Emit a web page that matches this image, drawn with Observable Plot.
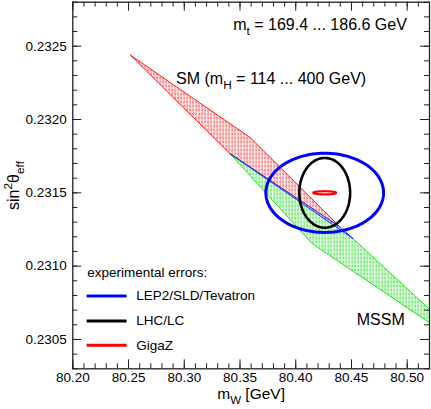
<!DOCTYPE html>
<html>
<head>
<meta charset="utf-8">
<script src="https://cdn.jsdelivr.net/npm/d3@7"></script>
<script src="https://cdn.jsdelivr.net/npm/@observablehq/plot@0.6"></script>
<style>
  html, body { margin: 0; padding: 0; background: #fff; }
  #chart svg { display: block; }
</style>
</head>
<body>
<div id="chart"></div>
<script>
// ---------------- data ----------------
const xMajorTicks = [80.20, 80.25, 80.30, 80.35, 80.40, 80.45, 80.50];
const yMajorTicks = [0.2305, 0.2310, 0.2315, 0.2320, 0.2325];
const xDomain = [80.20, 80.52];
const yDomain = [0.2303, 0.2328];

// SM band (m_H = 114 ... 400 GeV), polygon vertices
const smBandX = [80.2517, 80.3591, 80.4397, 80.3412, 80.2517];
const smBandY = [0.232439, 0.231877, 0.231267, 0.231766, 0.232439];

// overlap strip between SM and MSSM
const overlapX = [80.3412, 80.4397, 80.4514, 80.3412];
const overlapY = [0.231766, 0.231267, 0.231188, 0.231766];

// MSSM band, polygon vertices
const mssmBandX = [80.3412, 80.4514, 80.52, 80.52, 80.4147, 80.3412];
const mssmBandY = [0.231766, 0.231188, 0.230706, 0.230614, 0.231154, 0.231766];

// experimental error ellipses
const ellipseNames = ["LEP2/SLD/Tevatron", "LHC/LC", "GigaZ"];
const ellipseCenterX = [80.426, 80.426, 80.426];
const ellipseCenterY = [0.23150, 0.23150, 0.23150];
const ellipseErrX = [0.0528, 0.0228, 0.0103];
const ellipseErrY = [0.000270, 0.000238, 0.000011];

// texts
const topLabel = "m_{t} = 169.4 ... 186.6 GeV";
const smLabel = "SM (m_{H} = 114 ... 400 GeV)";
const mssmLabel = "MSSM";
const legendTitle = "experimental errors:";
const xLabel = "m_{W} [GeV]";
const yLabel = "sin^{2}θ_{eff}";

// ---------------- layout & style ----------------
const W = 431, H = 409;
const M = {top: 1.7, right: 2, bottom: 40.7, left: 72.3};
const frameW = W - M.left - M.right, frameH = H - M.top - M.bottom;
const ellipseColors = ["#0000ff", "#000000", "#ff0000"];
const ellipseWidths = [3, 2.6, 2.2];
const textPos = {
  top: {x: 80.3439, y: 0.232609},
  sm: {x: 80.2926, y: 0.232242},
  mssm: {x: 80.4547, y: 0.230597},
  yLabel: {y: 0.23155}
};
const legendPos = {x1: 80.2129, x2: 80.2487, xText: 80.2570, yTitle: 0.230925,
  yItems: [0.230796, 0.230626, 0.230461]};

const xMinor = d3.range(0, 33).map(i => +(80.20 + i * 0.01).toFixed(2));
const yMinor = d3.range(0, 26).map(i => +(0.2303 + i * 0.0001).toFixed(4));

const poly = (X, Y) => X.map((x, i) => ({x, y: Y[i]}));
const ellipsePts = i => d3.range(0, 361, 3).map(a => {
  const t = a * Math.PI / 180;
  return {x: ellipseCenterX[i] + ellipseErrX[i] * Math.cos(t), y: ellipseCenterY[i] + ellipseErrY[i] * Math.sin(t)};
});

const tickColor = "#222";
const marks = [
  Plot.line(poly(smBandX, smBandY), {x: "x", y: "y", fill: "url(#hatchRed)", stroke: "#ff0000", strokeWidth: 0.9, clip: true}),
  Plot.line(poly(mssmBandX, mssmBandY), {x: "x", y: "y", fill: "url(#hatchGreen)", stroke: "#00e000", strokeWidth: 0.9, clip: true}),
  Plot.line(poly(overlapX, overlapY), {x: "x", y: "y", fill: "url(#hatchBlue)", stroke: "#2020ff", strokeWidth: 0.9, clip: true}),
  ...ellipseNames.map((n, i) => Plot.line(ellipsePts(i), {x: "x", y: "y", stroke: ellipseColors[i], strokeWidth: ellipseWidths[i], clip: true})),
  // legend
  Plot.text([legendTitle], {x: legendPos.x1, y: legendPos.yTitle, text: d => d, textAnchor: "start", lineAnchor: "bottom", fontSize: 13.5}),
  ...ellipseNames.map((n, i) => Plot.ruleY([legendPos.yItems[i]], {y: d => d, x1: legendPos.x1, x2: legendPos.x2, stroke: ellipseColors[i], strokeWidth: 3})),
  ...ellipseNames.map((n, i) => Plot.text([n], {x: legendPos.xText, y: legendPos.yItems[i], text: d => d, textAnchor: "start", lineAnchor: "middle", fontSize: 13.5})),
  // annotations
  Plot.text([topLabel], {x: textPos.top.x, y: textPos.top.y, text: d => d, textAnchor: "start", lineAnchor: "bottom", fontSize: 16}),
  Plot.text([smLabel], {x: textPos.sm.x, y: textPos.sm.y, text: d => d, textAnchor: "start", lineAnchor: "bottom", fontSize: 16}),
  Plot.text([mssmLabel], {x: textPos.mssm.x, y: textPos.mssm.y, text: d => d, textAnchor: "start", lineAnchor: "bottom", fontSize: 16}),
  // axis titles
  Plot.text([xLabel], {frameAnchor: "bottom", dy: 30, text: d => d, lineAnchor: "bottom", fontSize: 15.5}),
  Plot.text([yLabel], {frameAnchor: "left", y: () => textPos.yLabel.y, dx: -54, rotate: -90, text: d => d, textAnchor: "middle", lineAnchor: "bottom", fontSize: 16}),
  // inward ticks on all four sides
  Plot.ruleX(xMinor, {x: d => d, insetTop: frameH - 5, stroke: tickColor}),
  Plot.ruleX(xMinor, {x: d => d, insetBottom: frameH - 5, stroke: tickColor}),
  Plot.ruleX(xMajorTicks, {x: d => d, insetTop: frameH - 9, stroke: tickColor}),
  Plot.ruleX(xMajorTicks, {x: d => d, insetBottom: frameH - 9, stroke: tickColor}),
  Plot.ruleY(yMinor, {y: d => d, insetRight: frameW - 5, stroke: tickColor}),
  Plot.ruleY(yMinor, {y: d => d, insetLeft: frameW - 5, stroke: tickColor}),
  Plot.ruleY(yMajorTicks, {y: d => d, insetRight: frameW - 9, stroke: tickColor}),
  Plot.ruleY(yMajorTicks, {y: d => d, insetLeft: frameW - 9, stroke: tickColor}),
  Plot.axisX(xMajorTicks, {tickSize: 0, tickPadding: 4, tickFormat: d => d.toFixed(2), label: null, fontSize: 13.5}),
  Plot.axisY(yMajorTicks, {tickSize: 0, tickPadding: 6, tickFormat: d => d.toFixed(4), label: null, fontSize: 13.5}),
  Plot.frame({stroke: "#222", strokeWidth: 1.3})
];

const svg = Plot.plot({
  width: W, height: H,
  marginTop: M.top, marginRight: M.right, marginBottom: M.bottom, marginLeft: M.left,
  x: {domain: xDomain, label: null},
  y: {domain: yDomain, label: null},
  style: {fontFamily: "'Liberation Sans', Arial, Helvetica, sans-serif", fontSize: "13.5px", color: "#000", background: "#fff", overflow: "visible"},
  marks
});

// hatch patterns
const defs = d3.select(svg).insert("defs", ":first-child");
function hatch(id, line, bg) {
  const p = defs.append("pattern").attr("id", id).attr("patternUnits", "userSpaceOnUse").attr("width", 3).attr("height", 4);
  p.append("rect").attr("width", 3).attr("height", 4).attr("fill", "#fff");
  p.append("rect").attr("x", 1).attr("width", 1).attr("height", 4).attr("fill", bg);
  p.append("rect").attr("x", 0).attr("width", 1).attr("height", 3).attr("fill", line);
}
hatch("hatchRed", "#ff4040", "#ffd4d4");
hatch("hatchGreen", "#2ee02e", "#ccfacc");
hatch("hatchBlue", "#3030ff", "#c4c4ff");

document.getElementById("chart").append(svg);

// sub/superscripts
const NS = "http://www.w3.org/2000/svg";
d3.select(svg).selectAll("text").each(function() {
  const s = this.textContent;
  if (!/[_^]\{/.test(s)) return;
  const fs = parseFloat(getComputedStyle(this).fontSize) || 16;
  this.textContent = "";
  const add = (txt, size, dy) => {
    const t = document.createElementNS(NS, "tspan");
    t.textContent = txt;
    if (size) t.setAttribute("font-size", size);
    if (dy) t.setAttribute("dy", dy);
    this.appendChild(t);
  };
  const re = /([_^])\{([^}]*)\}/g;
  let last = 0, shift = 0, m;
  while ((m = re.exec(s))) {
    if (m.index > last) { add(s.slice(last, m.index), null, -shift); shift = 0; }
    const d = m[1] === "_" ? 0.32 * fs : -0.42 * fs;
    add(m[2], 0.74 * fs, d - shift);
    shift = d;
    last = re.lastIndex;
  }
  if (last < s.length) add(s.slice(last), null, -shift);
});
</script>
</body>
</html>
